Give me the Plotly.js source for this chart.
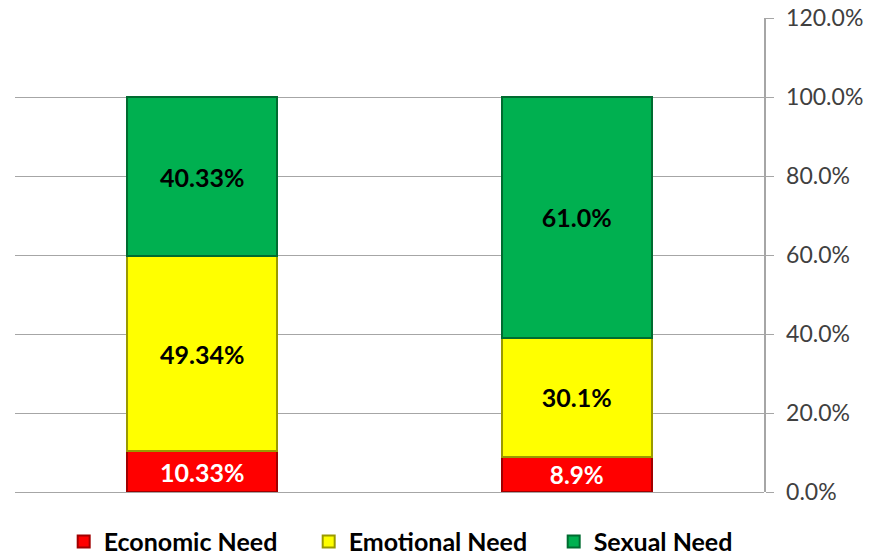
<!DOCTYPE html>
<html><head><meta charset="utf-8">
<script src="https://cdn.plot.ly/plotly-3.0.1.min.js"></script>
<style>body{margin:0;background:#fff}#chart{width:870px;height:560px}</style>
</head><body><div id="chart"></div>
<script>
const categories = ['Group A', 'Group B'];
const economic = [10.33, 8.9];
const emotional = [49.34, 30.1];
const sexual = [40.33, 61.0];
const economicLabels = ['10.33%', '8.9%'];
const emotionalLabels = ['49.34%', '30.1%'];
const sexualLabels = ['40.33%', '61.0%'];
const tickVals = [0, 20, 40, 60, 80, 100, 120];
const tickText = ['0.0%', '20.0%', '40.0%', '60.0%', '80.0%', '100.0%', '120.0%'];

const FONT = 'Lato, Open Sans, sans-serif';
const lblFont = (c) => ({family: FONT, size: 25, color: c, weight: 'bold'});
function mk(name, y, text, color, line, txtColor) {
  return {type: 'bar', name, x: categories, y, text, textposition: 'inside', insidetextanchor: 'middle',
    textfont: lblFont(txtColor), textangle: 0,
    marker: {color, line: {color: line, width: 2}}, hoverinfo: 'skip'};
}
const data = [
  mk('Economic Need', economic, economicLabels, '#FF0000', '#A00000', '#FFFFFF'),
  mk('Emotional Need', emotional, emotionalLabels, '#FFFF00', '#9A9A00', '#000000'),
  mk('Sexual Need', sexual, sexualLabels, '#00B050', '#006B30', '#000000')
];
const layout = {
  width: 870, height: 560, barmode: 'stack', bargap: 0.6,
  margin: {l: 15, r: 106, t: 18, b: 68, autoexpand: false},
  paper_bgcolor: '#fff', plot_bgcolor: '#fff', showlegend: true,
  uniformtext: {mode: false},
  xaxis: {showticklabels: false, showgrid: false, zeroline: false, showline: false, ticks: ''},
  yaxis: {side: 'right', range: [0, 120], tickvals: tickVals, ticktext: tickText,
    showgrid: true, gridcolor: '#A6A6A6', gridwidth: 1, zeroline: true, zerolinecolor: '#A6A6A6',
    showline: true, linecolor: '#A6A6A6', linewidth: 1.5, ticks: 'outside', ticklen: 8, tickcolor: '#A6A6A6',
    ticklabelstandoff: 8,
    tickfont: {family: FONT, size: 23, color: '#404040'}},
  legend: {orientation: 'h', x: 0.065, xanchor: 'left', y: -0.105, yanchor: 'middle',
    font: {family: FONT, size: 25, color: '#000', weight: 'bold'},
    itemwidth: 30, entrywidth: 200, entrywidthmode: 'pixels', traceorder: 'normal'}
};
Plotly.newPlot('chart', data, layout, {displayModeBar: false, staticPlot: true});
</script></body></html>
